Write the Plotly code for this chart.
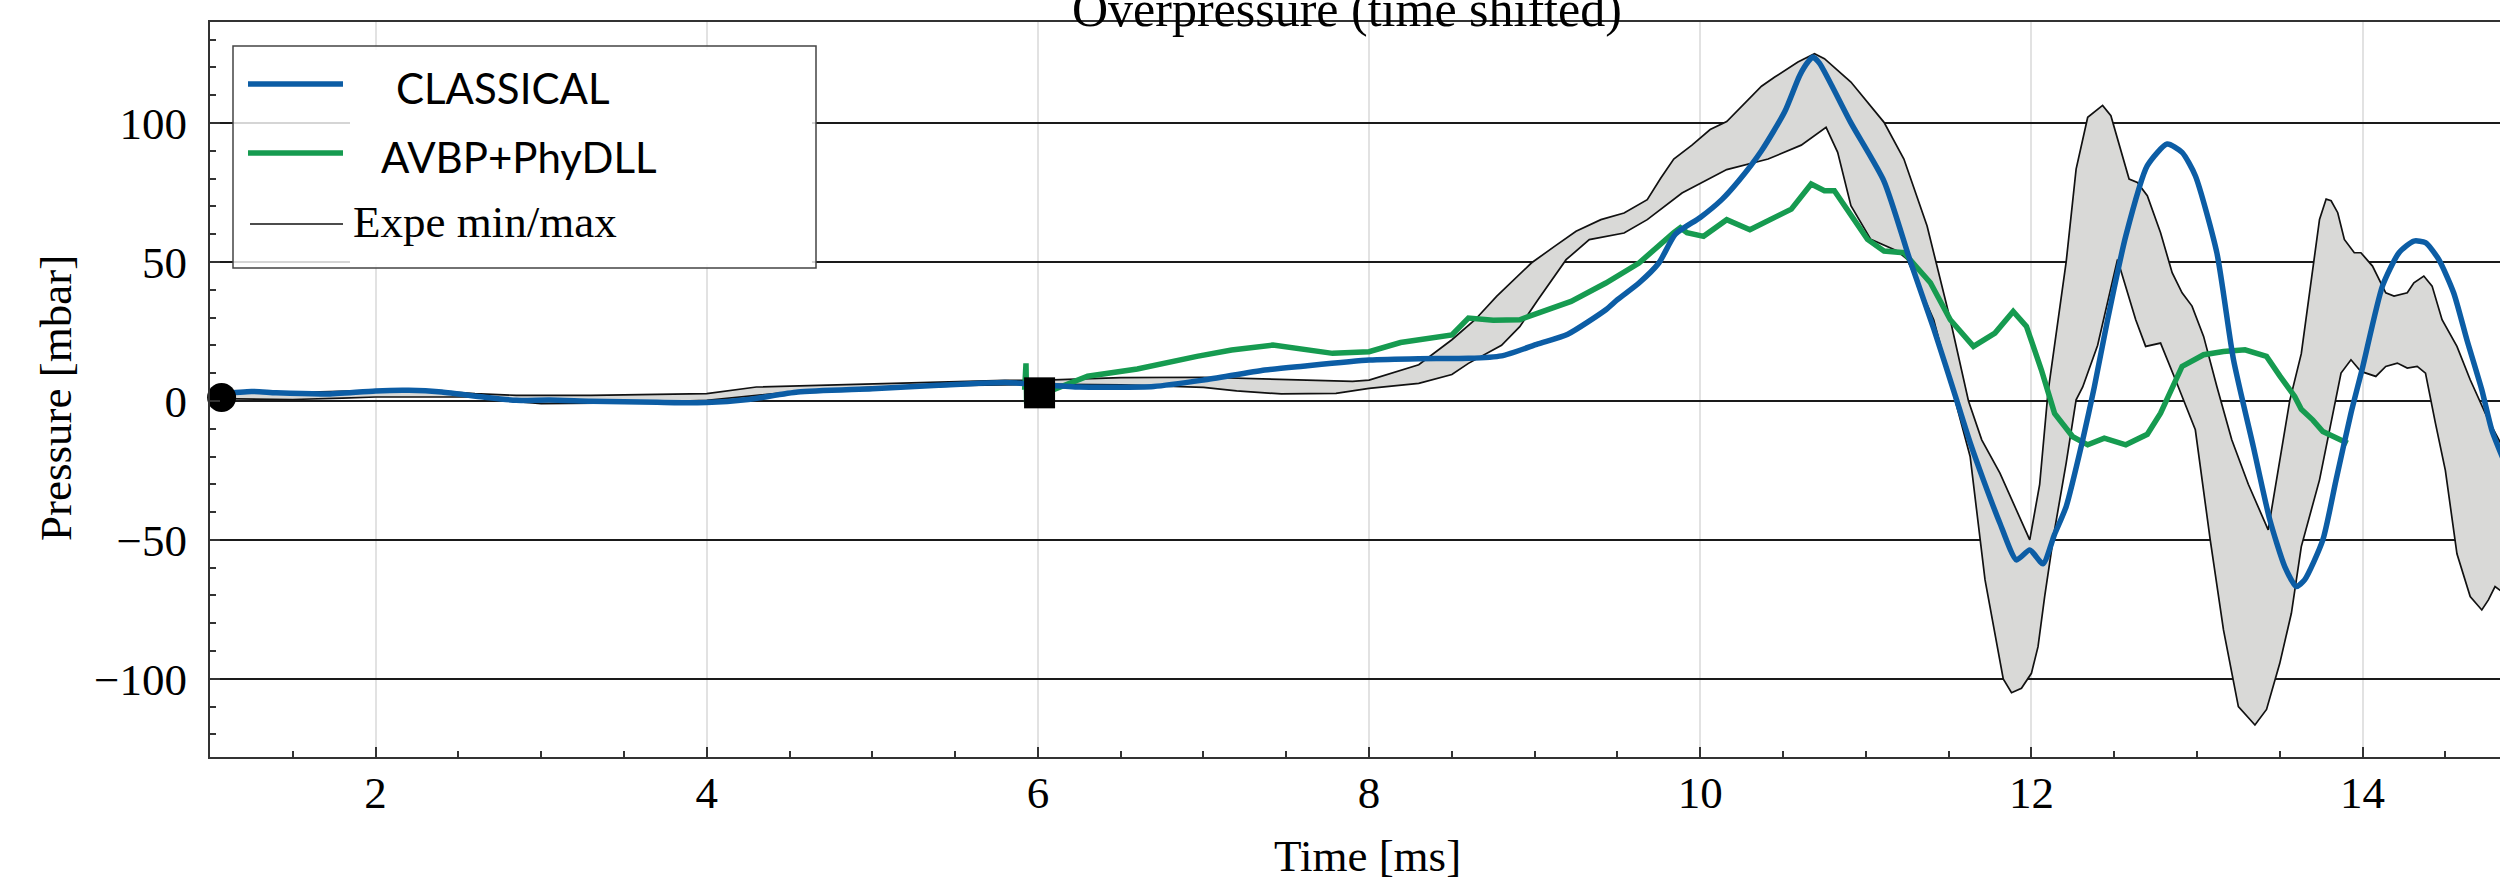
import plotly.graph_objects as go

# ---- data: time [ms] and overpressure [mbar] ----
t_classical = [1.05, 1.25, 1.4, 1.7, 2.0, 2.2, 2.4, 2.65, 2.85, 3.05, 3.3, 3.7, 4.0, 4.25, 4.55, 5.0, 5.4, 5.8,
               6.0, 6.25, 6.7, 7.0, 7.37, 7.6, 8.0, 8.3, 8.6, 8.8, 9.02, 9.2, 9.43, 9.5, 9.63, 9.75, 9.85, 10.0,
               10.13, 10.23, 10.37, 10.51, 10.6, 10.65, 10.68, 10.72, 10.91, 11.11, 11.27, 11.41, 11.55, 11.63,
               11.71, 11.81, 11.91, 11.99, 12.07, 12.14, 12.21, 12.31, 12.38, 12.46, 12.57, 12.7, 12.82, 12.91,
               12.99, 13.12, 13.22, 13.34, 13.44, 13.53, 13.6, 13.65, 13.76, 13.84, 13.93, 14.0, 14.12, 14.22,
               14.31, 14.38, 14.46, 14.55, 14.63, 14.72, 14.78, 14.85]
p_classical = [2.5, 3.4, 2.9, 2.5, 3.6, 3.8, 3.2, 1.4, 0.2, 0.3, -0.1, -0.5, -0.6, 0.5, 3.2, 4.4, 5.6, 6.6,
               6.0, 5.0, 5.2, 7.5, 11.1, 12.5, 14.7, 15.2, 15.3, 16.2, 20.5, 24.0, 32.8, 36.4, 42.4, 49.6, 60.0, 66.0,
               72.4, 79.0, 90.0, 104.0, 117.0, 121.9, 123.7, 121.5, 100.0, 79.0, 50.0, 26.0, 0.0, -15.0,
               -28.4, -44.0, -57.2, -53.6, -58.6, -48.0, -38.0, -14.0, 5.0, 29.2, 59.3, 84.6, 92.4, 89.4,
               81.0, 53.3, 15.0, -16.4, -42.8, -59.6, -66.8, -64.4, -50.0, -28.4, -4.4, 12.0, 41.3, 53.3,
               57.5, 56.9, 50.9, 38.9, 22.0, 4.0, -10.4, -21.0]

t_avbp = [5.92, 5.928, 5.932, 5.936, 5.95, 6.1, 6.3, 6.6, 6.96, 7.17, 7.42, 7.58, 7.78, 8.0, 8.19, 8.5, 8.6, 8.75,
          8.91, 9.02, 9.22, 9.43, 9.63, 9.84, 9.88, 9.92, 10.02, 10.16, 10.3, 10.55, 10.67, 10.75, 10.81, 11.01,
          11.11, 11.23, 11.39, 11.51, 11.65, 11.78, 11.89, 11.97, 12.06, 12.14, 12.25, 12.34, 12.44, 12.57, 12.7,
          12.78, 12.87, 12.91, 13.04, 13.16, 13.29, 13.42, 13.5, 13.59, 13.63, 13.7, 13.76, 13.82, 13.91]
p_avbp = [4.0, 13.5, -1.0, 3.0, 3.5, 4.2, 8.9, 11.5, 16.0, 18.3, 20.1, 18.6, 17.1, 17.7, 21.0, 23.7, 29.8, 29.0,
          29.2, 31.6, 35.8, 42.4, 49.6, 60.5, 62.3, 60.5, 59.2, 65.2, 61.6, 69.0, 78.0, 75.6, 75.6, 58.1,
          53.9, 53.3, 42.5, 29.2, 19.6, 24.4, 32.2, 26.8, 11.2, -4.5, -12.9, -15.8, -13.4, -15.8, -12.0,
          -4.4, 7.6, 12.4, 16.6, 17.8, 18.4, 16.0, 9.0, 1.6, -3.0, -6.9, -11.0, -12.5, -15.2]

t_expe_max = [1.05, 1.5, 2.0, 2.4, 2.6, 2.85, 3.3, 4.0, 4.3, 5.0, 5.8, 6.0, 6.5, 7.0, 7.5, 7.9, 8.0, 8.3, 8.5,
              8.64, 8.77, 8.98, 9.12, 9.25, 9.4, 9.54, 9.68, 9.76, 9.84, 9.95, 10.06, 10.16, 10.37, 10.45, 10.59,
              10.69, 10.75, 10.91, 11.11, 11.23, 11.37, 11.51, 11.62, 11.7, 11.81, 11.9, 11.99, 12.05, 12.1,
              12.21, 12.27, 12.34, 12.43, 12.48, 12.59, 12.64, 12.7, 12.78, 12.85, 12.91, 12.97, 13.04, 13.12,
              13.21, 13.31, 13.43, 13.48, 13.56, 13.63, 13.7, 13.74, 13.78, 13.81, 13.85, 13.89, 13.95, 13.99,
              14.06, 14.14, 14.19, 14.27, 14.31, 14.37, 14.42, 14.48, 14.57, 14.65, 14.76, 14.85]
p_expe_max = [3.2, 3.0, 3.8, 3.4, 2.6, 2.0, 2.0, 2.6, 5.0, 6.2, 7.4, 7.4, 8.4, 8.5, 7.6, 7.0, 7.5, 13.0, 22.0,
              29.2, 37.6, 49.6, 55.6, 61.0, 65.2, 67.6, 72.4, 80.0, 87.0, 92.0, 97.6, 100.5, 113.2, 116.5, 121.9,
              124.9, 123.1, 114.7, 100.2, 87.0, 62.9, 29.2, 0.0, -14.0, -26.0, -38.0, -50.0, -30.0, 3.0,
              50.0, 83.4, 102.0, 106.3, 102.6, 79.8, 78.6, 73.8, 60.5, 46.1, 38.9, 34.1, 23.2, 5.2,
              -14.0, -30.0, -46.4, -28.4, 0.0, 17.0, 47.3, 65.3, 72.6, 72.0, 67.7, 58.1, 53.3, 53.3,
              48.5, 38.9, 37.7, 38.9, 42.5, 44.9, 41.3, 29.2, 19.6, 7.6, -6.9, -17.0]

t_expe_min = [1.05, 1.5, 1.8, 2.0, 2.6, 2.8, 3.0, 3.5, 4.0, 4.5, 5.0, 5.5, 6.0, 6.5, 7.0, 7.2, 7.47, 7.8, 8.0,
              8.3, 8.5, 8.6, 8.8, 8.91, 9.02, 9.19, 9.33, 9.54, 9.68, 9.89, 10.16, 10.41, 10.61, 10.76, 10.83,
              10.91, 11.03, 11.19, 11.25, 11.41, 11.54, 11.63, 11.72, 11.83, 11.88, 11.94, 12.0, 12.04, 12.08,
              12.14, 12.21, 12.27, 12.31, 12.4, 12.52, 12.57, 12.63, 12.69, 12.78, 12.87, 12.99, 13.08, 13.16,
              13.25, 13.31, 13.35, 13.42, 13.5, 13.57, 13.63, 13.74, 13.8, 13.87, 13.93, 13.99, 14.08, 14.14,
              14.21, 14.27, 14.33, 14.38, 14.44, 14.5, 14.57, 14.65, 14.72, 14.76, 14.8, 14.85]
p_expe_min = [0.8, 0.5, 1.0, 1.4, 1.4, 0.0, -1.0, -0.7, 0.2, 3.2, 5.0, 5.6, 6.0, 5.8, 4.9, 3.6, 2.5, 2.7, 4.5,
              6.3, 9.5, 13.5, 20.0, 26.7, 36.4, 50.8, 58.0, 60.4, 65.2, 74.8, 83.2, 87.0, 92.0, 98.4, 89.4,
              70.2, 58.1, 53.9, 50.9, 29.2, 0.0, -20.0, -64.4, -100.0, -105.0, -103.4, -98.0, -88.4, -70.4,
              -46.4, -22.4, 0.4, 5.0, 20.0, 50.9, 41.3, 29.2, 19.6, 20.8, 7.6, -10.4, -50.0, -82.4,
              -110.0, -114.0, -116.6, -111.0, -94.4, -76.4, -52.4, -28.4, -10.4, 10.0, 14.8, 10.6, 8.8, 12.4,
              13.6, 11.8, 12.4, 10.0, -8.0, -25.0, -55.0, -70.4, -75.2, -71.6, -66.8, -69.0]

# reference instants: start of the record and switch to the coupled run
t_start, p_start = [1.07], [1.2]
t_switch, p_switch = [6.01], [2.9]

x_ticks = [2, 4, 6, 8, 10, 12, 14]
y_ticks = [-100, -50, 0, 50, 100]

# ---- style ----
BLUE = "#0C5DA5"
GREEN = "#169B50"
BAND = "#D9D9D7"
SERIF = "Liberation Serif, Times New Roman, serif"
SANS = "Lato, Open Sans, sans-serif"

W, H = 2500, 880
PL, PT, PB = 210, 22, 757          # plot-area pixel edges (left, top, bottom)
PR = W


def fx(px):
    return (px - PL) / (PR - PL)


def fy(py):
    return (PB - py) / (PB - PT)


fig = go.Figure()

# experimental envelope: shaded band + its two edges
fig.add_trace(go.Scatter(
    x=t_expe_max + t_expe_min[::-1], y=p_expe_max + p_expe_min[::-1],
    fill="toself", fillcolor=BAND, line=dict(width=0), mode="lines",
    hoverinfo="skip", showlegend=False))
for tt, pp in ((t_expe_max, p_expe_max), (t_expe_min, p_expe_min)):
    fig.add_trace(go.Scatter(x=tt, y=pp, mode="lines",
                             line=dict(color="#111111", width=1.7),
                             showlegend=False))

fig.add_trace(go.Scatter(x=t_avbp, y=p_avbp, mode="lines", name="AVBP+PhyDLL",
                         line=dict(color=GREEN, width=5.5), showlegend=False))
fig.add_trace(go.Scatter(x=t_classical, y=p_classical, mode="lines", name="CLASSICAL",
                         line=dict(color=BLUE, width=5.5, shape="spline", smoothing=0.6),
                         showlegend=False))

fig.add_trace(go.Scatter(x=t_start, y=p_start, mode="markers",
                         marker=dict(symbol="circle", size=29, color="black"),
                         cliponaxis=False, showlegend=False))
fig.add_trace(go.Scatter(x=t_switch, y=p_switch, mode="markers",
                         marker=dict(symbol="square", size=31, color="black"),
                         cliponaxis=False, showlegend=False))

# ---- legend box drawn by hand ----
shapes = [
    dict(type="rect", xref="paper", yref="paper", x0=fx(233), x1=fx(816), y0=fy(268), y1=fy(46),
         fillcolor="rgba(255,255,255,0.82)", line=dict(color="#444444", width=1.5)),
    dict(type="rect", xref="paper", yref="paper", x0=fx(350), x1=fx(812), y0=fy(264), y1=fy(50),
         fillcolor="white", line=dict(width=0)),
    dict(type="line", xref="paper", yref="paper", x0=fx(248), x1=fx(343), y0=fy(84), y1=fy(84),
         line=dict(color=BLUE, width=5.5)),
    dict(type="line", xref="paper", yref="paper", x0=fx(248), x1=fx(343), y0=fy(153), y1=fy(153),
         line=dict(color=GREEN, width=5.5)),
    dict(type="line", xref="paper", yref="paper", x0=fx(250), x1=fx(343), y0=fy(224), y1=fy(224),
         line=dict(color="#111111", width=1.7)),
]

annotations = [
    dict(text="CLASSICAL", x=fx(394), y=fy(88), xanchor="left", yanchor="middle",
         font=dict(family=SANS, size=42, color="black")),
    dict(text="AVBP+PhyDLL", x=fx(379), y=fy(157), xanchor="left", yanchor="middle",
         font=dict(family=SANS, size=42, color="black")),
    dict(text="Expe min/max", x=fx(351), y=fy(222), xanchor="left", yanchor="middle",
         font=dict(family=SERIF, size=45, color="black")),
    # title, axis titles
    dict(text="Overpressure (time shifted)", x=fx(1347), y=1, xanchor="center", yanchor="bottom",
         yshift=-17, font=dict(family=SERIF, size=50, color="black")),
    dict(text="Time [ms]", x=fx(1367), y=fy(856), xanchor="center", yanchor="middle",
         font=dict(family=SERIF, size=45, color="black")),
    dict(text="Pressure [mbar]", x=fx(56), y=fy(398), xanchor="center", yanchor="middle",
         textangle=-90, font=dict(family=SERIF, size=45, color="black")),
]
for a in annotations:
    a.update(xref="paper", yref="paper", showarrow=False)

fig.update_layout(
    width=W, height=H,
    margin=dict(l=PL, r=0, t=PT, b=H - PB, pad=0),
    paper_bgcolor="white", plot_bgcolor="white",
    showlegend=False,
    shapes=shapes, annotations=annotations,
    font=dict(family=SERIF, size=45, color="black"),
)

fig.update_xaxes(
    range=[1.0, 14.83], tickvals=x_ticks, ticktext=[str(v) for v in x_ticks],
    showgrid=True, gridcolor="#E2E2E2", gridwidth=1.5,
    zeroline=False, showline=True, linecolor="#333333", linewidth=2, mirror=True,
    ticks="inside", ticklen=10, tickwidth=2, tickcolor="#333333",
    minor=dict(dtick=0.5, tick0=0, ticks="inside", ticklen=6, tickwidth=1.5, tickcolor="#333333", showgrid=False),
    tickfont=dict(family=SERIF, size=45, color="black"), ticklabelstandoff=-5,
)
fig.update_yaxes(
    range=[-128.1, 136.3], tickvals=y_ticks, ticktext=[str(v).replace("-", "\u2212") for v in y_ticks],
    showgrid=True, gridcolor="#1A1A1A", gridwidth=2,
    zeroline=False, showline=True, linecolor="#333333", linewidth=2, mirror=False,
    ticks="inside", ticklen=10, tickwidth=2, tickcolor="#333333",
    minor=dict(dtick=10, tick0=0, ticks="inside", ticklen=6, tickwidth=1.5, tickcolor="#333333", showgrid=False),
    tickfont=dict(family=SERIF, size=45, color="black"), ticklabelstandoff=12,
)

fig.write_html("out.html")
